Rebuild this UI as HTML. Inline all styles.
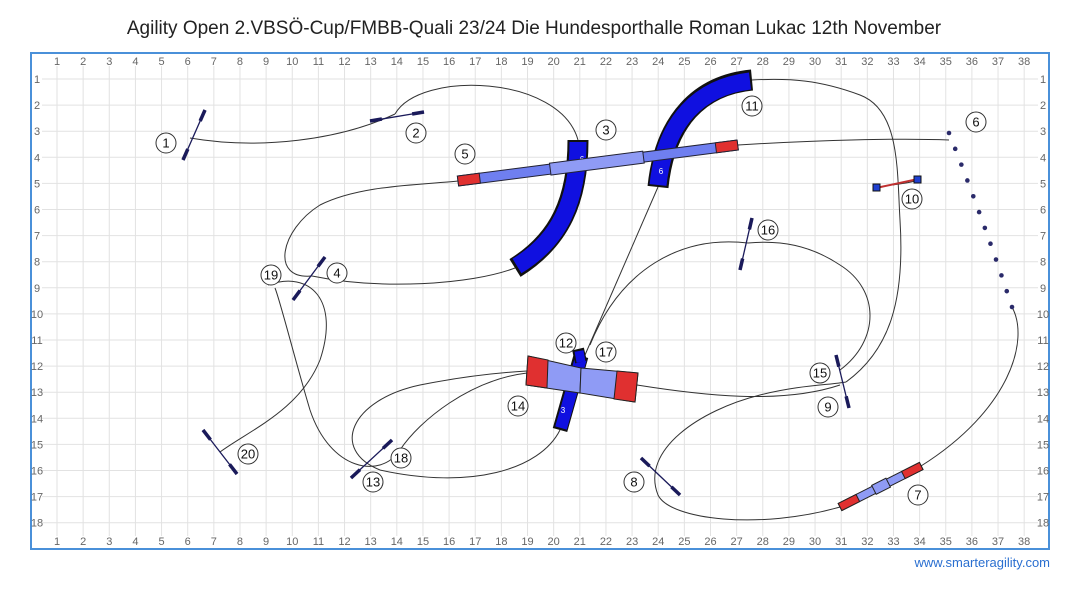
<!DOCTYPE html>
<html><head><meta charset="utf-8"><style>
body{margin:0;background:#fff;width:1080px;height:592px;overflow:hidden;font-family:"Liberation Sans",sans-serif}
</style></head><body>
<svg width="1080" height="592" viewBox="0 0 1080 592" xmlns="http://www.w3.org/2000/svg" font-family="Liberation Sans, sans-serif">
<text x="534" y="34" font-size="19" text-anchor="middle" fill="#222">Agility Open 2.VBSÖ-Cup/FMBB-Quali 23/24 Die Hundesporthalle Roman Lukac 12th November</text>
<rect x="31" y="53" width="1018" height="496" fill="#fff" stroke="#4a90d9" stroke-width="2"/>
<g id="grid" stroke="#e2e2e2" stroke-width="1"></g>
<g id="lbl" font-size="11" fill="#666" text-anchor="middle"></g>
<text x="1050" y="567" font-size="13" fill="#2a6fd0" text-anchor="end">www.smarteragility.com</text>

<g fill="none" stroke="#333" stroke-width="1">
<path d="M190,138 C260,150 340,140 395,114"/>
<path d="M395,114 C420,70 560,75 578,140"/>
<path d="M515,268 C470,285 380,290 312,276"/>
<path d="M312,276 C270,280 280,230 320,205 C360,185 420,185 458,181"/>
<path d="M738,145 C820,140 900,138 949,140"/>
<path d="M1012,307 C1030,340 1010,410 921,466"/>
<path d="M840,507 C760,530 670,520 658,495 C640,450 700,410 760,395 C800,385 830,385 846,382"/>
<path d="M846,382 C890,350 905,300 900,220 C897,170 900,110 860,95 C820,80 790,78 752,80"/>
<path d="M658,187 L585,355"/>
<path d="M560,430 C540,470 470,490 380,470"/>
<path d="M380,470 C330,450 350,400 420,385 C470,375 510,372 527,371"/>
<path d="M637,385 C700,395 780,405 840,385"/>
<path d="M840,370 C880,340 880,290 840,265 C810,245 780,240 748,243"/>
<path d="M748,243 C680,235 620,270 590,345"/>
<path d="M527,373 C470,380 420,420 400,450 C380,480 330,470 310,410 C295,360 280,300 275,288"/>
<path d="M268,285 C310,270 340,300 320,360 C300,410 250,430 220,452"/>
<path d="M893,185 C905,183 910,183 918,180"/>
</g>

<g stroke-linecap="butt">
<path d="M578,140 C578,200 560,240 515,268" fill="none" stroke="#111" stroke-width="21"/>
<path d="M578,142 C578,200 560,240 517,266" fill="none" stroke="#1010e0" stroke-width="17"/>
<path d="M658,187 C665,120 700,85 752,80" fill="none" stroke="#111" stroke-width="21"/>
<path d="M658,185 C665,120 700,87 750,81" fill="none" stroke="#1010e0" stroke-width="17"/>
<text x="582" y="162" font-size="8" fill="#fff" text-anchor="middle">6</text>
<text x="661" y="174" font-size="8" fill="#fff" text-anchor="middle">6</text>
</g>

<g transform="translate(458,181) rotate(-7.33)">
<rect x="0" y="-5" width="282" height="10" fill="#6f7ff0" stroke="#223" stroke-width="1"/>
<rect x="0" y="-5" width="22" height="10" fill="#e03030" stroke="#223" stroke-width="1"/>
<rect x="260" y="-5" width="22" height="10" fill="#e03030" stroke="#223" stroke-width="1"/>
<rect x="93" y="-6" width="94" height="12" fill="#8f9bf5" stroke="#223" stroke-width="1"/>
</g>

<g stroke="#222" stroke-width="1">
<path d="M581,356 L560,430" stroke="#111" stroke-width="15"/>
<path d="M581,358 L561,428" stroke="#1010e0" stroke-width="12"/>
<polygon points="528,356 581,368 580,393 526,385" fill="#8f9bf5"/>
<polygon points="581,368 638,373 635,402 580,393" fill="#8f9bf5"/>
<polygon points="528,356 548,360 547,388 526,385" fill="#e03030"/>
<polygon points="617,371 638,373 635,402 614,399" fill="#e03030"/>
<path d="M581,362 L578,349" stroke="#111" stroke-width="12"/>
<path d="M581,362 L579,351" stroke="#1010e0" stroke-width="9"/>
<text x="563" y="413" font-size="8" fill="#fff" stroke="none" text-anchor="middle">3</text>
</g>

<g transform="translate(840,507) rotate(-26.8)">
<rect x="0" y="-4" width="91" height="8" fill="#8f9bf5" stroke="#222"/>
<rect x="0" y="-4" width="20" height="8" fill="#e03030" stroke="#222"/>
<rect x="71" y="-4" width="20" height="8" fill="#e03030" stroke="#222"/>
<rect x="38" y="-5" width="16" height="10" fill="#8f9bf5" stroke="#222"/>
</g>

<g stroke="#1a1a5a" fill="none">
<g id="jumps"></g>
<line x1="876" y1="188" x2="918" y2="179" stroke="#c03030" stroke-width="2"/>
<rect x="873" y="184" width="7" height="7" fill="#2040d0" stroke="#111"/>
<rect x="914" y="176" width="7" height="7" fill="#2040d0" stroke="#111"/>
</g>

<g fill="#2a2a6a" id="weave"></g>

<g font-size="13" text-anchor="middle" fill="#111" id="nums"></g>
</svg>
<script>
var ns="http://www.w3.org/2000/svg";
function el(p,t,a,txt){var e=document.createElementNS(ns,t);for(var k in a)e.setAttribute(k,a[k]);if(txt!==undefined)e.textContent=txt;p.appendChild(e);return e;}
var g=document.getElementById('grid'),l=document.getElementById('lbl');
function X(c){return 30.86+26.14*c}function Y(r){return 52.9+26.1*r}
for(var c=1;c<=38;c++){el(g,'line',{x1:X(c),y1:66,x2:X(c),y2:536});el(l,'text',{x:X(c),y:65},c);el(l,'text',{x:X(c),y:545},c);}
for(var r=1;r<=18;r++){el(g,'line',{x1:42,y1:Y(r),x2:1038,y2:Y(r)});el(l,'text',{x:37,y:Y(r)+4},r);el(l,'text',{x:1043,y:Y(r)+4},r);}
var J=[[205,110,183,160],[370,121,424,112],[752,218,740,270],[325,257,293,300],[836,355,849,408],[203,430,237,474],[351,478,392,440],[641,458,680,495]];
var jg=document.getElementById('jumps');
J.forEach(function(j){var dx=j[2]-j[0],dy=j[3]-j[1];
el(jg,'line',{x1:j[0],y1:j[1],x2:j[2],y2:j[3],'stroke-width':1.3});
el(jg,'line',{x1:j[0],y1:j[1],x2:j[0]+dx*0.22,y2:j[1]+dy*0.22,'stroke-width':3.5});
el(jg,'line',{x1:j[2],y1:j[3],x2:j[2]-dx*0.22,y2:j[3]-dy*0.22,'stroke-width':3.5});});
var w=document.getElementById('weave');
for(var i=0;i<12;i++){var t=i/11;el(w,'circle',{cx:949+63*t+6*t*(1-t),cy:133+174*t,r:2.3});}
var N=[[166,143,1],[416,133,2],[606,130,3],[337,273,4],[465,154,5],[976,122,6],[918,495,7],[634,482,8],[828,407,9],[912,199,10],[752,106,11],[566,343,12],[373,482,13],[518,406,14],[820,373,15],[768,230,16],[606,352,17],[401,458,18],[271,275,19],[248,454,20]];
var ng=document.getElementById('nums');
N.forEach(function(n){el(ng,'circle',{cx:n[0],cy:n[1],r:10,fill:'#fff',stroke:'#333','stroke-width':1});el(ng,'text',{x:n[0],y:n[1]+4.5},n[2]);});
</script>
</body></html>
